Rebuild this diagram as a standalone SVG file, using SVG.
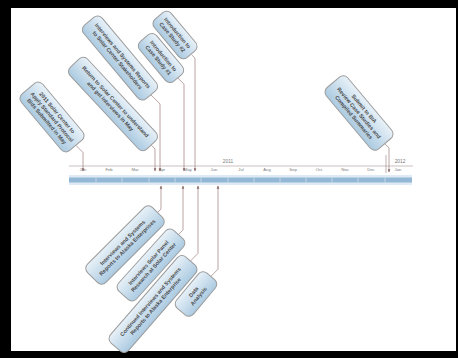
<svg xmlns="http://www.w3.org/2000/svg" width="458" height="358" viewBox="0 0 458 358">
<defs>
<linearGradient id="g" x1="0" y1="0" x2="0" y2="1">
<stop offset="0" stop-color="#e8f1f8"/>
<stop offset="1" stop-color="#abcae1"/>
</linearGradient>
<marker id="ah" viewBox="0 0 6 6" refX="5" refY="3" markerWidth="4" markerHeight="4" orient="auto">
<path d="M0,0.5 L6,3 L0,5.5 z" fill="#8a6a6a"/>
</marker>
<style>
.box{fill:url(#g);stroke:#9c9c9c;stroke-width:1}
.t{font-family:"Liberation Sans",Arial,sans-serif;font-size:5.4px;fill:#4a4a4a;text-anchor:middle;font-weight:bold}
.m{font-family:"Liberation Sans",Arial,sans-serif;font-size:4.2px;fill:#7a7a7a;text-anchor:middle}
.y{font-family:"Liberation Sans",Arial,sans-serif;font-size:4.8px;fill:#7a7a7a;text-anchor:middle}
.c{fill:none;stroke:#a88c8c;stroke-width:0.8}
</style>
</defs>
<rect x="0" y="0" width="458" height="358" fill="#ffffff"/>
<path d="M0,0H458V358H0Z M11,8V351H456V8Z" fill="#000" fill-rule="evenodd"/>

<g id="timeline">
<line x1="69" y1="166" x2="413" y2="166" stroke="#bfaeae" stroke-width="0.8"/>
<line x1="386" y1="155" x2="386" y2="173" stroke="#a88c8c" stroke-width="0.7"/>
<text class="y" x="228" y="163">2011</text>
<text class="y" x="400" y="163">2012</text>
<rect x="69" y="175" width="343" height="10" fill="#dfeaf4"/>
<rect x="69" y="177.5" width="343" height="5" fill="#93b8d5"/>
<g stroke="#dfeaf4" stroke-width="0.6">
<line x1="96" y1="177.5" x2="96" y2="182.5"/><line x1="122" y1="177.5" x2="122" y2="182.5"/><line x1="149" y1="177.5" x2="149" y2="182.5"/><line x1="175" y1="177.5" x2="175" y2="182.5"/><line x1="201" y1="177.5" x2="201" y2="182.5"/><line x1="228" y1="177.5" x2="228" y2="182.5"/><line x1="254" y1="177.5" x2="254" y2="182.5"/><line x1="280" y1="177.5" x2="280" y2="182.5"/><line x1="306" y1="177.5" x2="306" y2="182.5"/><line x1="332" y1="177.5" x2="332" y2="182.5"/><line x1="358" y1="177.5" x2="358" y2="182.5"/><line x1="385" y1="177.5" x2="385" y2="182.5"/>
</g>
<text class="m" x="83" y="171">Jan</text>
<text class="m" x="109" y="171">Feb</text>
<text class="m" x="135" y="171">Mar</text>
<text class="m" x="162" y="171">Apr</text>
<text class="m" x="188" y="171">May</text>
<text class="m" x="214" y="171">Jun</text>
<text class="m" x="241" y="171">Jul</text>
<text class="m" x="267" y="171">Aug</text>
<text class="m" x="293" y="171">Sep</text>
<text class="m" x="319" y="171">Oct</text>
<text class="m" x="345" y="171">Nov</text>
<text class="m" x="371" y="171">Dec</text>
<text class="m" x="398" y="171">Jan</text>
</g>

<g id="connectors">
<path class="c" d="M75.8,145.3 L83,152.5 L83,171" marker-end="url(#ah)"/>
<path class="c" d="M151.2,145 L155,148.8 L155,171" marker-end="url(#ah)"/>
<path class="c" d="M150.9,94.8 L160,103.9 L160,171" marker-end="url(#ah)"/>
<path class="c" d="M177.7,77.9 L184,84.2 L184,171" marker-end="url(#ah)"/>
<path class="c" d="M191.7,54.9 L195,58.2 L195,171" marker-end="url(#ah)"/>
<path class="c" d="M384.7,143.6 L389,147.9 L389,172" marker-end="url(#ah)"/>
<path class="c" d="M157.5,212.5 L161,209 L161,186" marker-end="url(#ah)"/>
<path class="c" d="M178.4,234.5 L183,229.9 L183,186" marker-end="url(#ah)"/>
<path class="c" d="M190.4,261 L198,253.4 L198,186" marker-end="url(#ah)"/>
<path class="c" d="M210.8,276.4 L218,269.2 L218,186" marker-end="url(#ah)"/>
</g>

<g id="n1" transform="translate(52,117) rotate(50)">
<rect class="box" x="-37" y="-14" width="74" height="28" rx="6"/>
<text class="t" x="0" y="-4.8">2011 Solar Center to</text>
<text class="t" x="0" y="1.9">Apply Standard Protocol</text>
<text class="t" x="0" y="8.6">Bids Submitted in May</text>
</g>
<g id="n2" transform="translate(113,104) rotate(47)">
<rect class="box" x="-56" y="-12" width="112" height="24" rx="6"/>
<text class="t" x="0" y="-1.5">Return to Solar Center to understand</text>
<text class="t" x="0" y="5.3">and get interviews in May</text>
</g>
<g id="n3" transform="translate(120,58) rotate(50)">
<rect class="box" x="-48" y="-12" width="96" height="24" rx="6"/>
<text class="t" x="0" y="-1.5">Interviews and Systems Reports</text>
<text class="t" x="0" y="5.3">to Solar Center Stakeholders</text>
</g>
<g id="n4" transform="translate(161,58) rotate(50)">
<rect class="box" x="-26" y="-11" width="52" height="22" rx="6"/>
<text class="t" x="0" y="-1.3">Introduction to</text>
<text class="t" x="0" y="5.3">Case Study #1</text>
</g>
<g id="n5" transform="translate(175,35) rotate(50)">
<rect class="box" x="-25" y="-11" width="50" height="22" rx="6"/>
<text class="t" x="0" y="-1.3">Introduction to</text>
<text class="t" x="0" y="5.3">Case Study #2</text>
</g>
<g id="n6" transform="translate(359,113) rotate(50)">
<rect class="box" x="-40" y="-14" width="80" height="28" rx="6"/>
<text class="t" x="0" y="-4.8">Submit to BIA</text>
<text class="t" x="0" y="1.9">Review Case Studies and</text>
<text class="t" x="0" y="8.6">Compiled Summaries</text>
</g>
<g id="n7" transform="translate(125,245) rotate(-45)">
<rect class="box" x="-46" y="-13" width="92" height="26" rx="6"/>
<text class="t" x="0" y="-1.5">Interviews and Systems</text>
<text class="t" x="0" y="5.3">Reports to Alaska Enterprises</text>
</g>
<g id="n8" transform="translate(151,265) rotate(-48)">
<rect class="box" x="-41" y="-12" width="82" height="24" rx="6"/>
<text class="t" x="0" y="-1.5">Interviews Solar Panel</text>
<text class="t" x="0" y="5.3">Research at Solar Center</text>
</g>
<g id="n9" transform="translate(153,304) rotate(-49)">
<rect class="box" x="-57" y="-12" width="114" height="24" rx="6"/>
<text class="t" x="0" y="-1.5">Continued Interviews and Systems</text>
<text class="t" x="0" y="5.3">Reports to Alaska Enterprise</text>
</g>
<g id="n10" transform="translate(196,294) rotate(-50)">
<rect class="box" x="-23" y="-11" width="46" height="22" rx="6"/>
<text class="t" x="0" y="-1.3">Data</text>
<text class="t" x="0" y="5.3">Analysis</text>
</g>
</svg>
